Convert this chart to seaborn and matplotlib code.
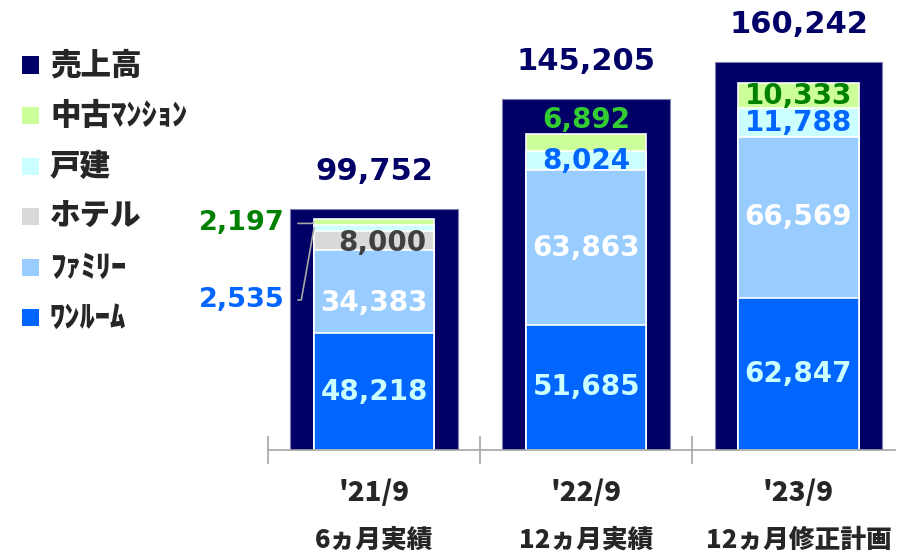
import numpy as np
import pandas as pd
import matplotlib
matplotlib.use("Agg")
import matplotlib.pyplot as plt
import seaborn as sns
from matplotlib.patches import Rectangle

# data
periods = ["'21/9", "'22/9", "'23/9"]
period_notes = ["6ヵ月実績", "12ヵ月実績", "12ヵ月修正計画"]
sales_total = [99752, 145205, 160242]
one_room = [48218, 51685, 62847]
family = [34383, 63863, 66569]
hotel = [8000, 0, 0]
detached = [2535, 8024, 11788]
used_condo = [2197, 6892, 10333]

legend_labels = ["売上高", "中古ﾏﾝｼｮﾝ", "戸建", "ホテル", "ﾌｧﾐﾘｰ", "ﾜﾝﾙｰﾑ"]

NAVY = "#000066"
seg_names = ["one_room", "family", "hotel", "detached", "used_condo"]
seg_colors = ["#0066FF", "#99CCFF", "#D9D9D9", "#CCFFFF", "#CCFF99"]
legend_colors = [NAVY, "#CCFF99", "#CCFFFF", "#D9D9D9", "#99CCFF", "#0066FF"]

df = pd.DataFrame({"period": periods, "total": sales_total, "one_room": one_room,
                   "family": family, "hotel": hotel, "detached": detached,
                   "used_condo": used_condo})

sns.set_style("white")
plt.rcParams["font.family"] = ["DejaVu Sans", "Noto Sans CJK JP"]
JP = ["Noto Sans CJK JP", "DejaVu Sans"]

fig = plt.figure(figsize=(8.97, 5.52), dpi=100)
ax = fig.add_axes([268 / 897, 102 / 552, 627 / 897, 450 / 552])

# outer navy bar = total sales
sns.barplot(data=df, x="period", y="total", color=NAVY, width=0.79, saturation=1,
            edgecolor="#8080B3", linewidth=0.8, ax=ax)

# inner stacked segments, drawn as cumulative bars from the top down
cum = df[seg_names].cumsum(axis=1)
for name, col in reversed(list(zip(seg_names, seg_colors))):
    sns.barplot(x=df["period"], y=cum[name], color=col, width=0.566, saturation=1,
                edgecolor="white", linewidth=1.2, ax=ax)

ax.set_xlim(-0.5, 2.455)
ax.set_ylim(0, 186000)
ax.set_xlabel("")
ax.set_ylabel("")
ax.set_yticks([])
for s in ["top", "right", "left"]:
    ax.spines[s].set_visible(False)
ax.spines["bottom"].set_color("#A6A6A6")
ax.spines["bottom"].set_linewidth(1.2)
ax.set_xticks(range(len(periods)))
ax.set_xticklabels([])
ax.tick_params(axis="x", which="major", length=0)
ax.set_xticks([-0.5, 0.5, 1.5], minor=True)
ax.tick_params(axis="x", which="minor", bottom=True, direction="inout", length=20,
               width=1.2, color="#A6A6A6")

# category labels (two lines)
for i, (p, n) in enumerate(zip(periods, period_notes)):
    ax.text(i, -0.095, p, transform=ax.get_xaxis_transform(), ha="center",
            va="center", fontsize=20, fontweight="heavy", family=JP)
    ax.text(i, -0.2, n, transform=ax.get_xaxis_transform(), ha="center",
            va="center", fontsize=18.5, fontweight="heavy", family=JP)

# total labels
for i, v in enumerate(sales_total):
    ax.annotate(f"{v:,}", (i, v), xytext=(0, 27), textcoords="offset points",
                ha="center", va="center", fontsize=22, fontweight="bold", color=NAVY)

# segment labels
label_colors = {
    "one_room": ["#CCFFFF"] * 3,
    "family": ["white"] * 3,
    "hotel": ["#404040"] * 3,
    "detached": ["#0066FF"] * 3,
    "used_condo": ["#008000", "#33CC33", "#008000"],
}
offsets = {("family", 0): (0, -8), ("hotel", 0): (6, -2), ("used_condo", 1): (0, 16)}
bottoms = cum.shift(1, axis=1).fillna(0)
for name in seg_names:
    for i in range(len(periods)):
        v = df.loc[i, name]
        if v == 0:
            continue
        mid = bottoms.loc[i, name] + v / 2
        if i == 0 and name in ("detached", "used_condo"):
            # small slices: label outside on the left with a leader line
            dy = -52 if name == "detached" else -1
            angB = 80 if name == "detached" else 30
            ax.annotate(f"{v:,}", (-0.283, mid), xytext=(-21, dy),
                        textcoords="offset points", ha="right", va="center",
                        fontsize=19.5, fontweight="bold",
                        color=label_colors[name][i],
                        arrowprops=dict(arrowstyle="-", color="#A6A6A6", lw=1.2,
                                        shrinkA=7, shrinkB=0,
                                        connectionstyle=f"angle,angleA=0,angleB={angB},rad=0"))
            continue
        dx, dy = offsets.get((name, i), (0, 0))
        ax.annotate(f"{v:,}", (i, mid), xytext=(dx, dy), textcoords="offset points",
                    ha="center", va="center", fontsize=20, fontweight="bold",
                    color=label_colors[name][i])

# legend on the left
for k, (lab, col) in enumerate(zip(legend_labels, legend_colors)):
    yc = 1 - (65 + k * 50.5) / 552
    fig.add_artist(Rectangle((22 / 897, yc - 8.5 / 552), 17 / 897, 17 / 552,
                             transform=fig.transFigure, facecolor=col, edgecolor="none"))
    fig.text(50 / 897, yc, lab, ha="left", va="center", fontsize=22,
             fontweight="heavy", family=JP)

fig.savefig("out.png", dpi=100)
